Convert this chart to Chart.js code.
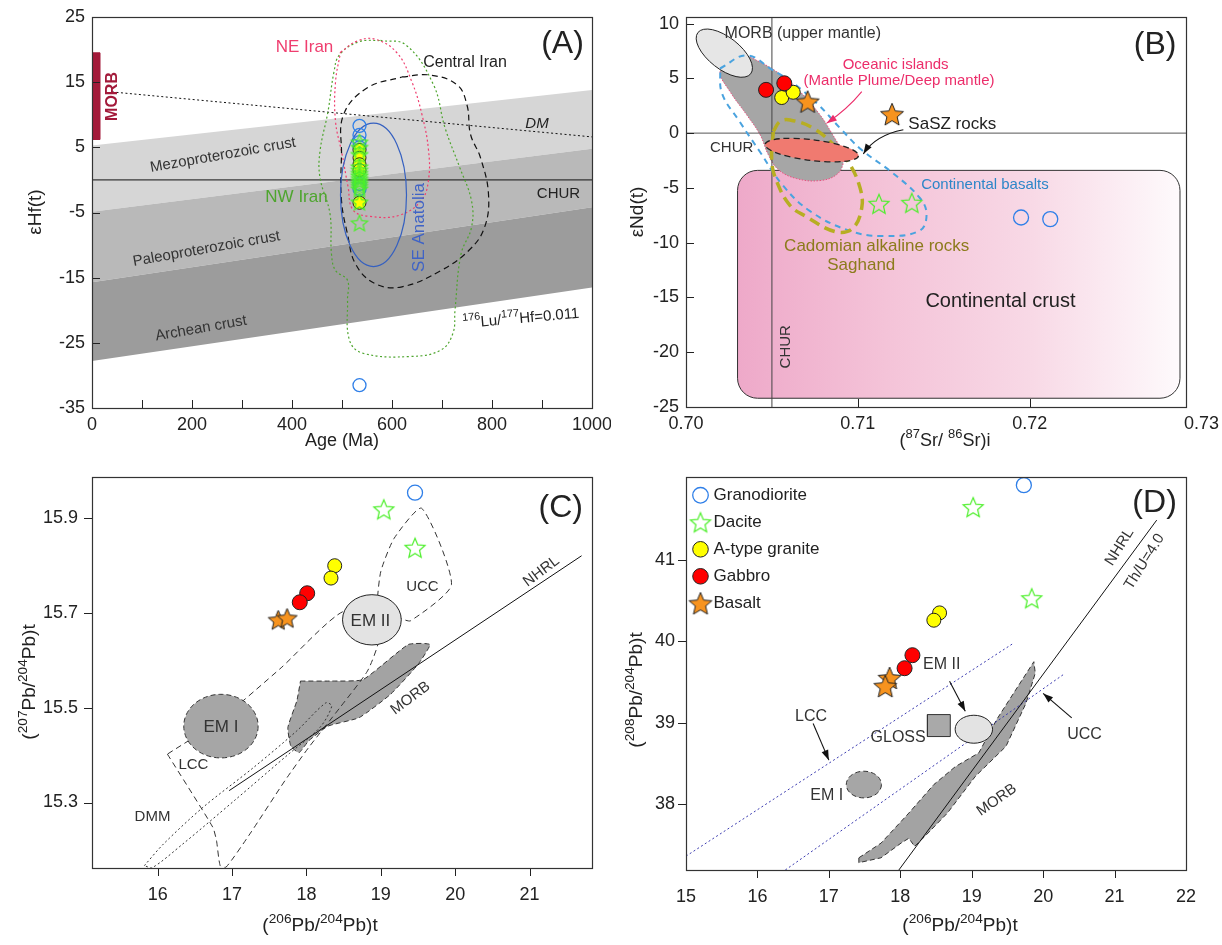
<!DOCTYPE html>
<html>
<head>
<meta charset="utf-8">
<title>Isotope diagrams A-D</title>
<script src="https://cdn.jsdelivr.net/npm/chart.js@4.4.1/dist/chart.umd.min.js"></script>
<style>
  html, body { margin: 0; padding: 0; background: #fff; }
  #page { position: relative; width: 1222px; height: 945px; overflow: hidden; }
  canvas { position: absolute; }
</style>
</head>
<body>
<div id="page">
  <canvas id="panelA" width="611" height="460" style="left:0;top:0"></canvas>
  <canvas id="panelB" width="611" height="460" style="left:611px;top:0"></canvas>
  <canvas id="panelC" width="611" height="485" style="left:0;top:460px"></canvas>
  <canvas id="panelD" width="611" height="485" style="left:611px;top:460px"></canvas>
</div>
<script>
// ---------- panel A : eHf(t) vs age ----------
const aAgeTicks = [0, 200, 400, 600, 800, 1000];
const aAgeMinor = [100, 300, 500, 700, 900];
const aHfTicks = [-35, -25, -15, -5, 5, 15, 25];
const aGranodiorite = [[535, 8.3], [535, 6.9], [535, 5.8], [535, 5.0], [535, -0.6], [535, -1.4], [535, -31.5]];
const aAtype = [[535, 4.6], [535, 3.4], [535, 2.4], [535, 1.5], [535, -3.5]];
const aDacite = [[535, 5.8], [535, 5.0], [535, 3.9], [535, 2.0], [535, 1.5], [535, 1.0], [535, 0.6], [535, 0.2],
                 [535, -0.2], [535, -0.6], [535, -1.0], [535, -1.4], [535, -3.4], [535, -6.6]];
const aMesoBand = [[0, 5.3], [1000, 13.8], [1000, 4.8], [0, -4.9]];
const aPaleoBand = [[0, -4.9], [1000, 4.8], [1000, -4.2], [0, -15.7]];
const aArcheanBand = [[0, -15.7], [1000, -4.2], [1000, -16.5], [0, -27.8]];
const aChur = [[0, 0], [1000, 0]];
const aDm = [[40, 13.5], [1000, 6.6]];
const aMorbBar = [[0, 6.2], [16, 6.2], [16, 19.5], [0, 19.5]];
const aNeIran = [[497, 19.6], [530, 21.3], [566, 21.6], [610, 19.5], [640, 15], [660, 10], [673, 4.6], [673, 0],
                 [659, -3.1], [616, -5.4], [556, -5.6], [522, -4.6], [512, -1], [500, 4], [487, 9], [487, 15]];
const aNwIran = [[577, 21.4], [628, 20.7], [683, 14.6], [706, 8], [735, 2], [759, -3.2], [759, -7.3], [738, -11.4],
                 [726, -20], [722, -23.5], [698, -26.1], [636, -27.1], [542, -26.6], [515, -24.6], [511, -18.5],
                 [511, -15.4], [487, -13.9], [479, -11.4], [476, -5.2], [456, 0.35], [456, 4.4], [472, 10.5],
                 [484, 16.6], [495, 19.2], [534, 21.2]];
const aCentralIran = [[620, 15.8], [675, 16.1], [730, 14.6], [750, 11.5], [757, 7], [777, 3.4], [793, -2.2],
                      [785, -7.3], [754, -10.8], [698, -13.9], [620, -16.4], [566, -15.9], [527, -12.9],
                      [511, -8.3], [499, -3.2], [499, 3.9], [503, 10], [550, 14.1]];
const aSeAnatolia = { x: 563, y: -2.3, rx: 66, ry: 11 };

// ---------- panel B : eNd(t) vs (87Sr/86Sr)i ----------
const bSrTicks = [0.70, 0.71, 0.72, 0.73];
const bNdTicks = [-25, -20, -15, -10, -5, 0, 5, 10];
const bGranodiorite = [[0.7195, -7.7], [0.7212, -7.85]];
const bDacite = [[0.71123, -6.45], [0.71314, -6.36]];
const bAtype = [[0.70557, 3.25], [0.70624, 3.73]];
const bGabbro = [[0.70466, 3.95], [0.70572, 4.55]];
const bBasalt = [[0.70708, 2.88], [0.71199, 1.73]];
const bChurV = [[0.705, -25], [0.705, 10.6]];
const bChurH = [[0.70, 0], [0.7291, 0]];
const bOceanIsland = [[0.70372, 6.97], [0.70528, 5.61], [0.70663, 3.79], [0.70780, 1.67], [0.70848, 0.0],
                      [0.70906, -1.66], [0.70915, -2.73], [0.70877, -3.78], [0.70780, -4.33], [0.70644, -4.15],
                      [0.70537, -3.33], [0.70479, -1.97], [0.70431, -0.15], [0.70353, 1.67], [0.70256, 3.79],
                      [0.70198, 5.61], [0.70256, 6.82]];
const bContBasalt = [[0.70198, 5.9], [0.70353, 7.1], [0.7050, 5.8], [0.7063, 4.5], [0.7077, 2.6], [0.7090, 0.4],
                     [0.7102, -1.5], [0.7120, -3.6], [0.7136, -5.9], [0.7140, -7.4], [0.7136, -8.9], [0.7115, -9.4],
                     [0.7095, -8.9], [0.7072, -7.1], [0.7056, -4.7], [0.7043, -1.7], [0.7031, 1.1], [0.7021, 3.6]];
const bCadomian = [[0.70508, 0.15], [0.70547, 1.06], [0.70605, 1.2], [0.70741, 0.45], [0.70877, -1.36],
                   [0.70954, -2.87], [0.71013, -5.0], [0.71023, -6.8], [0.70970, -8.7], [0.70870, -9.0],
                   [0.70698, -7.6], [0.70605, -6.6], [0.70528, -4.4], [0.70499, -2.6]];
const bMorb = { x: 0.70223, y: 7.3, rx: 0.00195, ry: 1.45, rot: 38 };
const bSaSZ = { x: 0.70732, y: -1.55, rx: 0.00274, ry: 0.95, rot: 7 };
const bContCrust = { x0: 0.7030, x1: 0.72875, y0: -24.2, y1: -3.4 };

// ---------- panel C : 207Pb/204Pb vs 206Pb/204Pb ----------
const cPb6Ticks = [16, 17, 18, 19, 20, 21];
const cPb7Ticks = [15.3, 15.5, 15.7, 15.9];
const cGranodiorite = [[19.46, 15.953]];
const cDacite = [[19.04, 15.918], [19.46, 15.837]];
const cAtype = [[18.38, 15.799], [18.33, 15.773]];
const cGabbro = [[18.01, 15.741], [17.91, 15.722]];
const cBasalt = [[17.62, 15.685], [17.74, 15.689]];
const cMorb = [[17.92, 15.556], [18.34, 15.556], [18.76, 15.559], [19.37, 15.633], [19.66, 15.633], [19.50, 15.591],
               [19.13, 15.528], [18.71, 15.479], [18.29, 15.461], [18.03, 15.430], [17.90, 15.405], [17.79, 15.419],
               [17.75, 15.458], [17.87, 15.514]];
const cDmm = [[15.82, 15.167], [16.08, 15.213], [16.61, 15.290], [17.29, 15.374], [17.87, 15.451], [18.26, 15.510],
              [18.34, 15.503], [18.18, 15.458], [17.76, 15.402], [17.03, 15.304], [16.34, 15.213], [15.92, 15.162]];
const cCrust = [[16.13, 15.402], [16.74, 15.248], [16.79, 15.220], [16.84, 15.167], [16.92, 15.164], [17.24, 15.234],
                [17.71, 15.346], [18.03, 15.416], [18.45, 15.500], [18.82, 15.577], [18.97, 15.640], [18.95, 15.717],
                [19.00, 15.787], [19.18, 15.857], [19.55, 15.920], [19.95, 15.759], [19.40, 15.683], [19.24, 15.689],
                [18.50, 15.703], [17.66, 15.584], [16.82, 15.472]];
const cNhrl = [[16.96, 15.325], [21.70, 15.820]];
const cEm1 = { x: 16.85, y: 15.461, rx: 0.5, ry: 0.067 };
const cEm2 = { x: 18.88, y: 15.685, rx: 0.395, ry: 0.053 };

// ---------- panel D : 208Pb/204Pb vs 206Pb/204Pb ----------
const dPb6Ticks = [15, 16, 17, 18, 19, 20, 21, 22];
const dPb8Ticks = [38, 39, 40, 41];
const dGranodiorite = [[19.73, 41.92]];
const dDacite = [[19.02, 41.65], [19.84, 40.53]];
const dAtype = [[18.55, 40.35], [18.47, 40.26]];
const dGabbro = [[18.17, 39.83], [18.06, 39.67]];
const dBasalt = [[17.85, 39.55], [17.79, 39.45]];
const dMorb = [[17.42, 37.34], [17.73, 37.52], [18.12, 37.89], [18.47, 38.24], [18.77, 38.46], [19.10, 38.63],
               [19.35, 39.04], [19.65, 39.45], [19.87, 39.75], [19.89, 39.61], [19.76, 39.24], [19.48, 38.71],
               [19.05, 38.34], [18.66, 37.89], [18.34, 37.60], [18.20, 37.48], [18.12, 37.58], [18.01, 37.52],
               [17.73, 37.34], [17.42, 37.28]];
const dNhrl = [[17.98, 37.19], [21.59, 41.49]];
const dLccLine = [[15.0, 37.36], [19.59, 39.98]];
const dUccLine = [[16.39, 37.19], [20.28, 39.59]];
const dGloss = [[18.38, 38.83], [18.70, 38.83], [18.70, 39.10], [18.38, 39.10]];
const dEm1 = { x: 17.49, y: 38.24, rx: 0.246, ry: 0.164 };
const dEm2 = { x: 19.03, y: 38.92, rx: 0.262, ry: 0.172 };

// ---------------------------------------------------------------
const FONT = "'Liberation Sans Narrow', 'Liberation Sans', Arial, sans-serif";
Chart.defaults.font.family = FONT;
Chart.defaults.color = '#222';

const SAMPLE = {
  gran:  { name: 'Granodiorite',   rank: 0, fill: null,      stroke: '#2f7fe8', lw: 1.3 },
  dac:   { name: 'Dacite',         rank: 1, fill: null,      stroke: '#4cef2a', lw: 1.2, star: true },
  atype: { name: 'A-type granite', rank: 2, fill: '#ffff00', stroke: '#222',    lw: 1 },
  gab:   { name: 'Gabbro',         rank: 3, fill: '#ff0000', stroke: '#222',    lw: 1 },
  bas:   { name: 'Basalt',         rank: 4, fill: '#f7931e', stroke: '#222',    lw: 1, star: true }
};

const pts = arr => arr.map(p => ({ x: p[0], y: p[1] }));

function makeStar(d, fill, stroke, lw) {
  const c = document.createElement('canvas');
  const n = Math.ceil(d + 2 * lw + 2);
  c.width = c.height = n;
  const g = c.getContext('2d');
  const R = d / 2, r = R * 0.45, cx = n / 2, cy = n / 2 + R * 0.095;
  g.beginPath();
  for (let i = 0; i < 10; i++) {
    const a = -Math.PI / 2 + i * Math.PI / 5, rr = i % 2 ? r : R;
    g.lineTo(cx + rr * Math.cos(a), cy + rr * Math.sin(a));
  }
  g.closePath();
  if (fill) { g.fillStyle = fill; g.fill(); }
  g.lineWidth = lw; g.strokeStyle = stroke; g.stroke();
  return c;
}

function sampleSet(kind, arr, size) {
  const s = SAMPLE[kind];
  return {
    type: 'scatter', label: s.name, data: pts(arr), isSample: true, rank: s.rank,
    pointStyle: s.star ? makeStar(size, s.fill, s.stroke, s.lw) : 'circle',
    pointRadius: size / 2, borderWidth: s.lw,
    backgroundColor: s.fill || 'rgba(0,0,0,0)', borderColor: s.stroke
  };
}

// closed outline (field) drawn by the line controller
function poly(label, arr, o) {
  return Object.assign({
    type: 'line', label, data: pts(arr.concat([arr[0]])), pointRadius: 0,
    borderWidth: 1, borderColor: '#222', backgroundColor: 'rgba(0,0,0,0)', fill: false, tension: 0
  }, o);
}
function line(label, arr, o) {
  return Object.assign({
    type: 'line', label, data: pts(arr), pointRadius: 0,
    borderWidth: 1, borderColor: '#222', fill: false, tension: 0
  }, o);
}

// rich text: ^{..} = superscript
function drawRich(ctx, text, x, y, t) {
  const size = t.size || 15;
  const segs = [];
  const re = /\^\{([^}]*)\}/g;
  let last = 0, m;
  while ((m = re.exec(text))) {
    if (m.index > last) segs.push({ t: text.slice(last, m.index), sup: false });
    segs.push({ t: m[1], sup: true });
    last = re.lastIndex;
  }
  if (last < text.length) segs.push({ t: text.slice(last), sup: false });
  const font = s => `${t.style || 'normal'} ${t.weight || 'normal'} ${s}px ${FONT}`;
  let w = 0;
  segs.forEach(s => { ctx.font = font(s.sup ? size * 0.72 : size); s.w = ctx.measureText(s.t).width; w += s.w; });
  let cx = t.align === 'left' ? x : t.align === 'right' ? x - w : x - w / 2;
  ctx.fillStyle = t.color || '#222';
  ctx.textAlign = 'left';
  ctx.textBaseline = 'middle';
  segs.forEach(s => {
    ctx.font = font(s.sup ? size * 0.72 : size);
    ctx.fillText(s.t, cx, s.sup ? y - size * 0.38 : y);
    cx += s.w;
  });
}

const DRAW = {
  text(chart, ctx, t) {
    const X = chart.scales.x.getPixelForValue(t.x), Y = chart.scales.y.getPixelForValue(t.y);
    ctx.translate(X, Y);
    if (t.rot) ctx.rotate(t.rot * Math.PI / 180);
    drawRich(ctx, t.text, 0, 0, t);
  },
  ellipse(chart, ctx, e) {
    const xs = chart.scales.x, ys = chart.scales.y;
    const cx = xs.getPixelForValue(e.x), cy = ys.getPixelForValue(e.y);
    const rx = Math.abs(xs.getPixelForValue(e.x + e.rx) - cx);
    const ry = Math.abs(ys.getPixelForValue(e.y + e.ry) - cy);
    ctx.beginPath();
    ctx.ellipse(cx, cy, rx, ry, (e.rot || 0) * Math.PI / 180, 0, Math.PI * 2);
    if (e.fill) { ctx.fillStyle = e.fill; ctx.fill(); }
    if (e.stroke) {
      ctx.setLineDash(e.dash || []);
      ctx.lineWidth = e.lw || 1; ctx.strokeStyle = e.stroke; ctx.stroke();
    }
  },
  rrect(chart, ctx, r) {
    const xs = chart.scales.x, ys = chart.scales.y;
    const X0 = xs.getPixelForValue(r.x0), X1 = xs.getPixelForValue(r.x1);
    const Y0 = ys.getPixelForValue(r.y1), Y1 = ys.getPixelForValue(r.y0);
    const g = ctx.createLinearGradient(X0, 0, X1, 0);
    r.grad.forEach((c, i) => g.addColorStop(i / (r.grad.length - 1), c));
    ctx.beginPath();
    ctx.roundRect(X0, Y0, X1 - X0, Y1 - Y0, r.radius);
    ctx.fillStyle = g; ctx.fill();
    ctx.lineWidth = 1; ctx.strokeStyle = r.stroke; ctx.stroke();
  },
  arrow(chart, ctx, a) {
    const P = a.pts.map(p => [chart.scales.x.getPixelForValue(p[0]), chart.scales.y.getPixelForValue(p[1])]);
    ctx.strokeStyle = a.color; ctx.fillStyle = a.color; ctx.lineWidth = 1.1;
    ctx.beginPath();
    ctx.moveTo(P[0][0], P[0][1]);
    if (P.length === 3) ctx.quadraticCurveTo(P[1][0], P[1][1], P[2][0], P[2][1]);
    else ctx.lineTo(P[1][0], P[1][1]);
    ctx.stroke();
    const e = P[P.length - 1], f = P[P.length - 2];
    const ang = Math.atan2(e[1] - f[1], e[0] - f[0]);
    ctx.beginPath();
    ctx.moveTo(e[0], e[1]);
    ctx.lineTo(e[0] - 10 * Math.cos(ang) + 3.5 * Math.sin(ang), e[1] - 10 * Math.sin(ang) - 3.5 * Math.cos(ang));
    ctx.lineTo(e[0] - 10 * Math.cos(ang) - 3.5 * Math.sin(ang), e[1] - 10 * Math.sin(ang) + 3.5 * Math.cos(ang));
    ctx.closePath(); ctx.fill();
  }
};

function makeDecor(cfg) {
  const paint = (chart, layer) => {
    const { ctx, chartArea: a } = chart;
    (cfg.items || []).filter(it => it.at === layer).forEach(it => {
      ctx.save();
      ctx.beginPath(); ctx.rect(a.left, a.top, a.right - a.left, a.bottom - a.top); ctx.clip();
      DRAW[it.kind](chart, ctx, it);
      ctx.restore();
    });
  };
  return {
    id: 'decor',
    beforeDatasetsDraw(chart) { paint(chart, 'under'); },
    afterDatasetDraw(chart, args) { paint(chart, chart.data.datasets[args.index].label); },
    afterDatasetsDraw(chart) {
      paint(chart, 'over');
      const { ctx, chartArea: a } = chart;
      const L = cfg.tickLen, dir = cfg.inward ? -1 : 1;
      ctx.save();
      ctx.strokeStyle = '#222'; ctx.lineWidth = 1;
      chart.scales.x.ticks.forEach(t => {
        const X = Math.round(chart.scales.x.getPixelForValue(t.value)) + 0.5;
        if (X <= a.left + 1 || X >= a.right - 1) return;
        ctx.beginPath(); ctx.moveTo(X, a.bottom); ctx.lineTo(X, a.bottom + dir * L); ctx.stroke();
      });
      chart.scales.y.ticks.forEach(t => {
        const Y = Math.round(chart.scales.y.getPixelForValue(t.value)) + 0.5;
        if (Y <= a.top + 1 || Y >= a.bottom - 1) return;
        ctx.beginPath(); ctx.moveTo(a.left, Y); ctx.lineTo(a.left - dir * L, Y); ctx.stroke();
      });
      ctx.lineWidth = 1.2; ctx.strokeStyle = '#333';
      ctx.strokeRect(Math.round(a.left) + 0.5, Math.round(a.top) + 0.5,
                     Math.round(a.right - a.left), Math.round(a.bottom - a.top));
      ctx.restore();
    },
    afterDraw(chart) {
      const ctx = chart.ctx;
      (cfg.titles || []).forEach(t => {
        ctx.save();
        ctx.translate(t.px, t.py);
        if (t.rot) ctx.rotate(t.rot * Math.PI / 180);
        drawRich(ctx, t.text, 0, 0, t);
        ctx.restore();
      });
    }
  };
}

function axis(dir, o) {
  return {
    type: 'linear', min: o.min, max: o.max,
    afterBuildTicks: s => { s.ticks = o.ticks.map(v => ({ value: v })); },
    afterFit: s => {
      if (dir === 'x') s.height = o.size; else s.width = o.size;
      s.paddingLeft = s.paddingRight = s.paddingTop = s.paddingBottom = 0;
    },
    grid: { display: false, drawTicks: false },
    border: { display: false },
    ticks: { autoSkip: false, maxRotation: 0, padding: o.pad, font: { size: 18 }, color: '#222', callback: o.fmt }
  };
}

function panel(id, cfg) {
  const n = cfg.layers.length;
  cfg.layers.forEach((d, i) => { d.order = n - i; });
  return new Chart(document.getElementById(id), {
    type: 'scatter',
    data: { datasets: cfg.layers },
    options: {
      responsive: false, animation: false, events: [],
      layout: { padding: cfg.pad },
      scales: { x: axis('x', cfg.x), y: axis('y', cfg.y) },
      plugins: { legend: cfg.legend || { display: false }, tooltip: { enabled: false } }
    },
    plugins: [makeDecor(cfg.decor)]
  });
}

const DOT = [2, 2.5], DASH = [6, 4];

// ---------------- A ----------------
panel('panelA', {
  pad: { left: 0, top: 17, right: 19, bottom: 0 },
  x: { min: 0, max: 1000, ticks: aAgeTicks.concat(aAgeMinor), size: 52, pad: 6,
       fmt: v => aAgeTicks.includes(v) ? String(v) : '' },
  y: { min: -35, max: 25, ticks: aHfTicks, size: 92, pad: 7, fmt: v => String(v) },
  layers: [
    poly('meso', aMesoBand, { fill: 'shape', backgroundColor: '#d6d6d6', borderColor: 'rgba(0,0,0,0)', borderWidth: 0 }),
    poly('paleo', aPaleoBand, { fill: 'shape', backgroundColor: '#b9b9b9', borderColor: 'rgba(0,0,0,0)', borderWidth: 0 }),
    poly('archean', aArcheanBand, { fill: 'shape', backgroundColor: '#9c9c9c', borderColor: 'rgba(0,0,0,0)', borderWidth: 0 }),
    line('chur', aChur, { borderColor: '#111' }),
    line('dm', aDm, { borderColor: '#111', borderDash: [2, 2.5] }),
    poly('morbBar', aMorbBar, { fill: 'shape', backgroundColor: '#a31a3a', borderColor: '#a31a3a' }),
    poly('nwIran', aNwIran, { borderColor: '#4ea52e', borderDash: DOT, tension: 0.4, borderWidth: 1.2 }),
    poly('neIran', aNeIran, { borderColor: '#ef3e6f', borderDash: DOT, tension: 0.4, borderWidth: 1.2 }),
    poly('centralIran', aCentralIran, { borderColor: '#111', borderDash: DASH, tension: 0.4, borderWidth: 1.2 }),
    sampleSet('gran', aGranodiorite, 13),
    sampleSet('atype', aAtype, 13),
    sampleSet('dac', aDacite, 17)
  ],
  decor: {
    inward: true, tickLen: 8,
    items: [
      Object.assign({ kind: 'ellipse', at: 'centralIran', stroke: '#3560c0', lw: 1.2 }, aSeAnatolia),
      { kind: 'text', at: 'over', x: 425, y: 20.4, text: 'NE Iran', color: '#ef3e6f', size: 17 },
      { kind: 'text', at: 'over', x: 746, y: 18.0, text: 'Central Iran', size: 16 },
      { kind: 'text', at: 'over', x: 941, y: 20.9, text: '(A)', size: 32 },
      { kind: 'text', at: 'over', x: 409, y: -2.7, text: 'NW Iran', color: '#4ea52e', size: 17 },
      { kind: 'text', at: 'over', x: 655, y: -7.3, text: 'SE Anatolia', color: '#3f63c6', size: 17, rot: -90 },
      { kind: 'text', at: 'over', x: 41, y: 12.8, text: 'MORB', color: '#a31a3a', size: 16, weight: 'bold', rot: -90 },
      { kind: 'text', at: 'over', x: 890, y: 8.6, text: 'DM', size: 15, style: 'italic' },
      { kind: 'text', at: 'over', x: 933, y: -2.2, text: 'CHUR', size: 15 },
      { kind: 'text', at: 'over', x: 262, y: 3.8, text: 'Mezoproterozoic crust', size: 15, rot: -10, color: '#333' },
      { kind: 'text', at: 'over', x: 229, y: -10.6, text: 'Paleoproterozoic crust', size: 15, rot: -10, color: '#333' },
      { kind: 'text', at: 'over', x: 218, y: -22.8, text: 'Archean crust', size: 15, rot: -10, color: '#333' },
      { kind: 'text', at: 'over', x: 858, y: -21.3, text: '^{176}Lu/^{177}Hf=0.011', size: 15, rot: -5 }
    ],
    titles: [
      { text: 'εHf(t)', px: 36, py: 212, rot: -90, size: 19 },
      { text: 'Age (Ma)', px: 342, py: 441, size: 18 }
    ]
  }
});

// ---------------- B ----------------
panel('panelB', {
  pad: { left: 0, top: 17, right: 36, bottom: 0 },
  x: { min: 0.70, max: 0.7291, ticks: bSrTicks, size: 53, pad: 6, fmt: v => v.toFixed(2) },
  y: { min: -25, max: 10.6, ticks: bNdTicks, size: 75, pad: 7, fmt: v => String(v) },
  layers: [
    poly('ocean', bOceanIsland, { fill: 'shape', backgroundColor: '#a6a6a6', borderColor: '#e8507e', borderDash: [1.5, 1.5], tension: 0.4 }),
    line('churV', bChurV, { borderColor: '#444' }),
    line('churH', bChurH, { borderColor: '#555' }),
    poly('contBasalt', bContBasalt, { borderColor: '#4aa3df', borderDash: [6, 5], borderWidth: 2, tension: 0.4 }),
    poly('cadomian', bCadomian, { borderColor: '#b7ae22', borderDash: [11, 6], borderWidth: 3.5, tension: 0.4 }),
    sampleSet('gran', bGranodiorite, 15),
    sampleSet('dac', bDacite, 21),
    sampleSet('atype', bAtype, 14),
    sampleSet('gab', bGabbro, 15),
    sampleSet('bas', bBasalt, 24)
  ],
  decor: {
    inward: true, tickLen: 8,
    items: [
      Object.assign({ kind: 'rrect', at: 'under', radius: 20, stroke: '#333',
                      grad: ['#eea9c9', '#f4c3d8', '#f8d9e6', '#fefafc'] }, bContCrust),
      Object.assign({ kind: 'ellipse', at: 'churH', fill: '#e6e6e6', stroke: '#222', lw: 1 }, bMorb),
      Object.assign({ kind: 'ellipse', at: 'cadomian', fill: '#f07a70', stroke: '#222', lw: 1.3, dash: [6, 4] }, bSaSZ),
      { kind: 'text', at: 'over', x: 0.7068, y: 9.1, text: 'MORB (upper mantle)', size: 16, color: '#333' },
      { kind: 'text', at: 'over', x: 0.7122, y: 6.27, text: 'Oceanic islands', size: 15, color: '#ec2d6a' },
      { kind: 'text', at: 'over', x: 0.7124, y: 4.76, text: '(Mantle Plume/Deep mantle)', size: 15, color: '#ec2d6a' },
      { kind: 'text', at: 'over', x: 0.71294, y: 0.76, text: 'SaSZ rocks', size: 17, align: 'left' },
      { kind: 'text', at: 'over', x: 0.70266, y: -1.3, text: 'CHUR', size: 15, color: '#333' },
      { kind: 'text', at: 'over', x: 0.7174, y: -4.68, text: 'Continental basalts', size: 15, color: '#2d86c8' },
      { kind: 'text', at: 'over', x: 0.7111, y: -10.36, text: 'Cadomian alkaline rocks', size: 17, color: '#8c7b1c' },
      { kind: 'text', at: 'over', x: 0.7102, y: -12.08, text: 'Saghand', size: 17, color: '#8c7b1c' },
      { kind: 'text', at: 'over', x: 0.7183, y: -15.4, text: 'Continental crust', size: 20 },
      { kind: 'text', at: 'over', x: 0.7058, y: -19.5, text: 'CHUR', size: 15, rot: -90, color: '#333' },
      { kind: 'text', at: 'over', x: 0.7273, y: 8.0, text: '(B)', size: 32 },
      { kind: 'arrow', at: 'over', color: '#ec2d6a', pts: [[0.71023, 3.79], [0.7094, 2.2], [0.70819, 0.91]] },
      { kind: 'arrow', at: 'over', color: '#111', pts: [[0.71265, 0.31], [0.7110, -0.2], [0.71032, -1.9]] }
    ],
    titles: [
      { text: 'εNd(t)', px: 27, py: 212, rot: -90, size: 19 },
      { text: '(^{87}Sr/ ^{86}Sr)i', px: 334, py: 441, size: 18 }
    ]
  }
});

// ---------------- C ----------------
panel('panelC', {
  pad: { left: 0, top: 17, right: 19, bottom: 0 },
  x: { min: 15.116, max: 21.84, ticks: cPb6Ticks, size: 77, pad: 16, fmt: v => String(v) },
  y: { min: 15.162, max: 15.986, ticks: cPb7Ticks, size: 92, pad: 14, fmt: v => v.toFixed(1) },
  layers: [
    poly('morb', cMorb, { fill: 'shape', backgroundColor: '#a3a3a3', borderColor: '#333', borderDash: [5, 3], tension: 0.15 }),
    poly('dmm', cDmm, { borderColor: '#333', borderDash: [2, 2.5], tension: 0.3 }),
    poly('crust', cCrust, { borderColor: '#333', borderDash: [6, 4], tension: 0.2 }),
    line('nhrl', cNhrl, { borderColor: '#111' }),
    sampleSet('gran', cGranodiorite, 15),
    sampleSet('dac', cDacite, 21),
    sampleSet('atype', cAtype, 14),
    sampleSet('gab', cGabbro, 15),
    sampleSet('bas', cBasalt, 21)
  ],
  decor: {
    inward: false, tickLen: 8,
    items: [
      Object.assign({ kind: 'ellipse', at: 'nhrl', fill: '#a6a6a6', stroke: '#333', lw: 1, dash: [5, 3] }, cEm1),
      Object.assign({ kind: 'ellipse', at: 'nhrl', fill: '#e3e3e3', stroke: '#222', lw: 1 }, cEm2),
      { kind: 'text', at: 'over', x: 18.86, y: 15.682, text: 'EM II', size: 17, color: '#333' },
      { kind: 'text', at: 'over', x: 16.85, y: 15.458, text: 'EM I', size: 17, color: '#333' },
      { kind: 'text', at: 'over', x: 19.40, y: 15.52, text: 'MORB', size: 15, rot: -37, color: '#333' },
      { kind: 'text', at: 'over', x: 21.16, y: 15.787, text: 'NHRL', size: 15, rot: -37, color: '#333' },
      { kind: 'text', at: 'over', x: 19.56, y: 15.755, text: 'UCC', size: 15, color: '#333' },
      { kind: 'text', at: 'over', x: 16.48, y: 15.38, text: 'LCC', size: 15, color: '#333' },
      { kind: 'text', at: 'over', x: 15.93, y: 15.27, text: 'DMM', size: 15, color: '#333' },
      { kind: 'text', at: 'over', x: 21.42, y: 15.92, text: '(C)', size: 32 }
    ],
    titles: [
      { text: '(^{207}Pb/^{204}Pb)t', px: 30, py: 222, rot: -90, size: 19 },
      { text: '(^{206}Pb/^{204}Pb)t', px: 320, py: 466, size: 19 }
    ]
  }
});

// ---------------- D ----------------
panel('panelD', {
  pad: { left: 0, top: 17, right: 36, bottom: 0 },
  x: { min: 15, max: 22, ticks: dPb6Ticks, size: 75, pad: 16, fmt: v => String(v) },
  y: { min: 37.19, max: 42.02, ticks: dPb8Ticks, size: 75, pad: 11, fmt: v => String(v) },
  legend: {
    display: true, position: 'chartArea', align: 'start',
    title: { display: true, text: ' ', padding: 0, font: { size: 14 } },
    labels: {
      usePointStyle: true, boxHeight: 11, boxWidth: 9, padding: 10, color: '#222', font: { size: 17 },
      filter: (item, data) => !!data.datasets[item.datasetIndex].isSample,
      sort: (a, b, data) => data.datasets[a.datasetIndex].rank - data.datasets[b.datasetIndex].rank
    }
  },
  layers: [
    poly('morb', dMorb, { fill: 'shape', backgroundColor: '#a3a3a3', borderColor: '#333', borderDash: [5, 3] }),
    line('lcc', dLccLine, { borderColor: '#3b3bb0', borderDash: [2, 2.5] }),
    line('ucc', dUccLine, { borderColor: '#3b3bb0', borderDash: [2, 2.5] }),
    line('nhrl', dNhrl, { borderColor: '#111' }),
    poly('gloss', dGloss, { fill: 'shape', backgroundColor: '#a9a9a9', borderColor: '#333' }),
    sampleSet('gran', dGranodiorite, 15),
    sampleSet('dac', dDacite, 21),
    sampleSet('atype', dAtype, 14),
    sampleSet('gab', dGabbro, 15),
    sampleSet('bas', dBasalt, 24)
  ],
  decor: {
    inward: false, tickLen: 8,
    items: [
      Object.assign({ kind: 'ellipse', at: 'gloss', fill: '#a6a6a6', stroke: '#333', lw: 1, dash: [5, 3] }, dEm1),
      Object.assign({ kind: 'ellipse', at: 'gloss', fill: '#e3e3e3', stroke: '#222', lw: 1 }, dEm2),
      { kind: 'text', at: 'over', x: 18.58, y: 39.72, text: 'EM II', size: 16, color: '#333' },
      { kind: 'text', at: 'over', x: 17.97, y: 38.82, text: 'GLOSS', size: 16, color: '#333' },
      { kind: 'text', at: 'over', x: 16.97, y: 38.11, text: 'EM I', size: 16, color: '#333' },
      { kind: 'text', at: 'over', x: 16.75, y: 39.08, text: 'LCC', size: 16, color: '#333' },
      { kind: 'text', at: 'over', x: 20.58, y: 38.86, text: 'UCC', size: 16, color: '#333' },
      { kind: 'text', at: 'over', x: 19.35, y: 38.05, text: 'MORB', size: 15, rot: -35, color: '#333' },
      { kind: 'text', at: 'over', x: 21.07, y: 41.16, text: 'NHRL', size: 15, rot: -58, color: '#333' },
      { kind: 'text', at: 'over', x: 21.42, y: 40.98, text: 'Th/U=4.0', size: 15, rot: -58, color: '#333' },
      { kind: 'text', at: 'over', x: 21.56, y: 41.70, text: '(D)', size: 32 },
      { kind: 'arrow', at: 'over', color: '#111', pts: [[18.69, 39.51], [18.91, 39.14]] },
      { kind: 'arrow', at: 'over', color: '#111', pts: [[16.78, 38.99], [17.0, 38.54]] },
      { kind: 'arrow', at: 'over', color: '#111', pts: [[20.40, 39.06], [20.0, 39.36]] }
    ],
    titles: [
      { text: '(^{208}Pb/^{204}Pb)t', px: 26, py: 230, rot: -90, size: 19 },
      { text: '(^{206}Pb/^{204}Pb)t', px: 349, py: 466, size: 19 }
    ]
  }
});
</script>
</body>
</html>
